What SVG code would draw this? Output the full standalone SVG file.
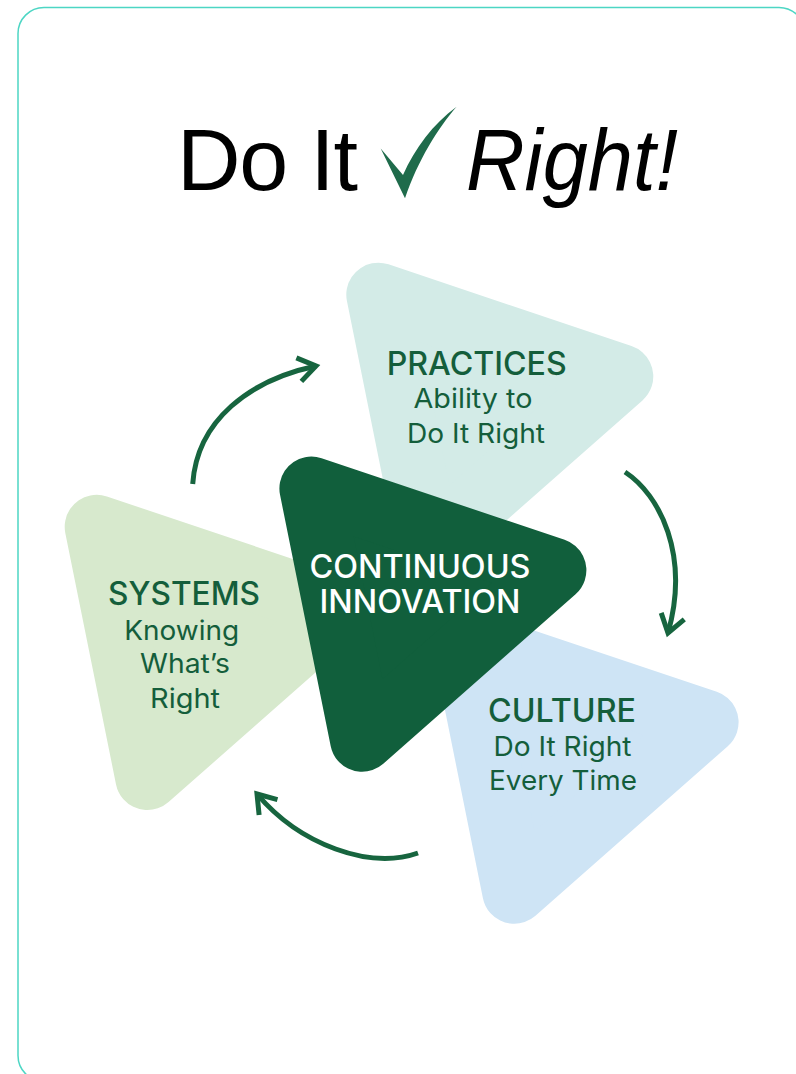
<svg xmlns="http://www.w3.org/2000/svg" width="796" height="1074" viewBox="0 0 796 1074">
<defs>
<style>
.tri{stroke-linejoin:round;stroke-width:64}
.prac{fill:#d3ebe7;stroke:#d3ebe7}
.sys{fill:#d7e9cd;stroke:#d7e9cd}
.cul{fill:#cee4f5;stroke:#cee4f5}
.core{fill:#115f3c;stroke:#115f3c}
.h{font-family:Inter,"Liberation Sans",sans-serif;font-size:32px;font-weight:500;fill:#145e3b;text-anchor:middle}
.s{font-family:Inter,"Liberation Sans",sans-serif;font-size:27px;font-weight:400;fill:#145e3b;text-anchor:middle}
.w{font-family:Inter,"Liberation Sans",sans-serif;font-size:32px;font-weight:500;fill:#ffffff;text-anchor:middle}
.arr{fill:none;stroke:#17653f;stroke-width:5}
.title{font-family:"Liberation Sans",Arial,sans-serif;font-size:88px;fill:#000}
</style>
<marker id="chev" markerUnits="userSpaceOnUse" markerWidth="40" markerHeight="40" viewBox="-25 -20 30 40" refX="0" refY="0" orient="auto">
<path d="M-17.5,-12 L0,0 L-17.5,12" fill="none" stroke="#17653f" stroke-width="5"/>
</marker>
</defs>
<rect x="18" y="7.5" width="787" height="1074" rx="26" fill="none" stroke="#4dd6c4" stroke-width="1.5"/>
<g id="title">
<text class="title" x="177" y="190" textLength="181">Do It</text>
<path d="M380.7,148.5 L403,175 C415,148 433,124 456.6,106.7 C438,128 418,160 405,198.3 Z" fill="#1f6b4b"/>
<text class="title" x="466" y="190" font-style="italic" textLength="212" lengthAdjust="spacingAndGlyphs">Right!</text>
</g>
<g id="practices">
<polygon class="tri prac" transform="translate(476.2,405.7)" points="-97.9,-111 145.1,-29.3 -47.2,140.3"/>
<text class="h" x="476.7" y="375" textLength="180" lengthAdjust="spacingAndGlyphs">PRACTICES</text>
<text class="s" x="473" y="408" textLength="119" lengthAdjust="spacingAndGlyphs">Ability to</text>
<text class="s" x="476" y="443" textLength="138" lengthAdjust="spacingAndGlyphs">Do It Right</text>
</g>
<g id="systems">
<polygon class="tri sys" transform="translate(194.6,637.8)" points="-97.9,-111 145.1,-29.3 -47.2,140.3"/>
<text class="h" x="184" y="605" textLength="152" lengthAdjust="spacingAndGlyphs">SYSTEMS</text>
<text class="s" x="181.7" y="640" textLength="115" lengthAdjust="spacingAndGlyphs">Knowing</text>
<text class="s" x="185" y="673" textLength="90" lengthAdjust="spacingAndGlyphs">What’s</text>
<text class="s" x="185" y="708" textLength="70" lengthAdjust="spacingAndGlyphs">Right</text>
</g>
<g id="culture">
<polygon class="tri cul" transform="translate(561.5,751.5)" points="-97.9,-111 145.1,-29.3 -47.2,140.3"/>
<text class="h" x="562" y="721.7" textLength="148" lengthAdjust="spacingAndGlyphs">CULTURE</text>
<text class="s" x="562.5" y="755.7" textLength="138" lengthAdjust="spacingAndGlyphs">Do It Right</text>
<text class="s" x="563" y="790" textLength="148" lengthAdjust="spacingAndGlyphs">Every Time</text>
</g>
<g id="core">
<polygon class="tri core" transform="translate(409.3,599.5)" points="-97.9,-111 145.1,-29.3 -47.2,140.3"/>
<text class="w" x="420" y="577.7" textLength="221" lengthAdjust="spacingAndGlyphs">CONTINUOUS</text>
<text class="w" x="420" y="613.3" textLength="201" lengthAdjust="spacingAndGlyphs">INNOVATION</text>
</g>
<g id="connectors">
<path class="arr" d="M192.7,484 C197,420 250,380 316,366" marker-end="url(#chev)"/>
<path class="arr" d="M625,472 C660,495 690,555 668,633" marker-end="url(#chev)"/>
<path class="arr" d="M418,853 C370,870 300,845 257,794" marker-end="url(#chev)"/>
</g>
</svg>
